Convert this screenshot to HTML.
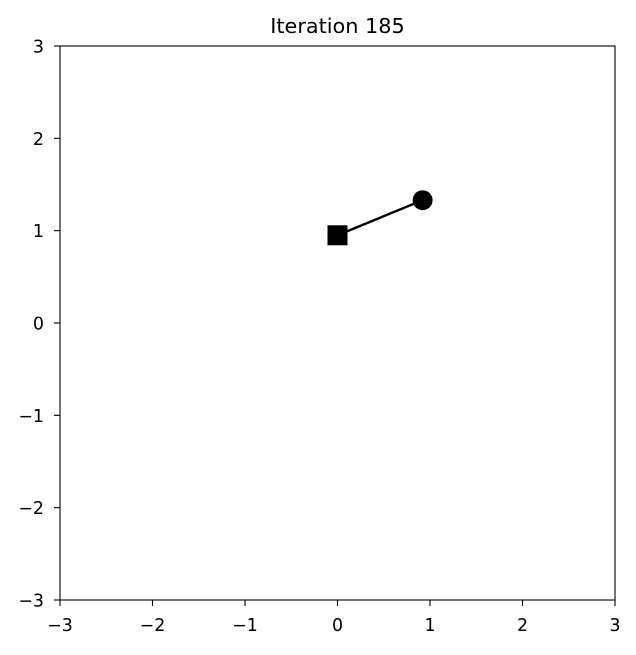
<!DOCTYPE html>
<html><head><meta charset="utf-8"><style>
html,body{margin:0;padding:0;background:#fff;}
svg text{font-family:"DejaVu Sans","Liberation Sans",sans-serif;fill:#000;}
</style></head><body>
<svg id="chart" width="636" height="650" xmlns="http://www.w3.org/2000/svg">
<text x="337.5" y="33" font-size="20.8" text-anchor="middle">Iteration 185</text>
<g id="ticks"></g>
<g id="marks"></g>
<rect x="60" y="46" width="555" height="554" fill="none" stroke="#000" stroke-width="1.1"/>
</svg>
<script>
const xTicks=[-3,-2,-1,0,1,2,3];
const yTicks=[-3,-2,-1,0,1,2,3];
const lineX=[0,0.92];
const lineY=[0.95,1.33];
const X0=60,X1=615,Y0=600,Y1=46;
function sx(v){return X0+(v+3)/6*(X1-X0);}
function sy(v){return Y0-(v+3)/6*(Y0-Y1);}
const NS="http://www.w3.org/2000/svg";
const tg=document.getElementById('ticks'),mg=document.getElementById('marks');
function el(t,a,p){const e=document.createElementNS(NS,t);for(const k in a)e.setAttribute(k,a[k]);p.appendChild(e);return e;}
function lab(v){return v<0?'\u2212'+Math.abs(v):String(v);}
xTicks.forEach(v=>{
 const l=el('line',{x1:sx(v),x2:sx(v),y1:Y0,y2:Y0+6,stroke:'#000','stroke-width':1.1},tg);
 
 
 const t=el('text',{x:sx(v),y:Y0+31,'font-size':17.4,'text-anchor':'middle'},tg);t.textContent=lab(v);
 
 
});
yTicks.forEach(v=>{
 const l=el('line',{x1:X0-6,x2:X0,y1:sy(v),y2:sy(v),stroke:'#000','stroke-width':1.1},tg);
 
 
 const t=el('text',{x:X0-16,y:sy(v)+6.5,'font-size':17.4,'text-anchor':'end'},tg);t.textContent=lab(v);
 
 
});
const ln=el('line',{x1:sx(lineX[0]),y1:sy(lineY[0]),x2:sx(lineX[1]),y2:sy(lineY[1]),stroke:'#000','stroke-width':2.4},mg);


const sq=el('rect',{x:sx(lineX[0])-10,y:sy(lineY[0])-10,width:20,height:20,fill:'#000'},mg);


const c=el('circle',{cx:sx(lineX[1]),cy:sy(lineY[1]),r:10,fill:'#000'},mg);


</script>
</body></html>
